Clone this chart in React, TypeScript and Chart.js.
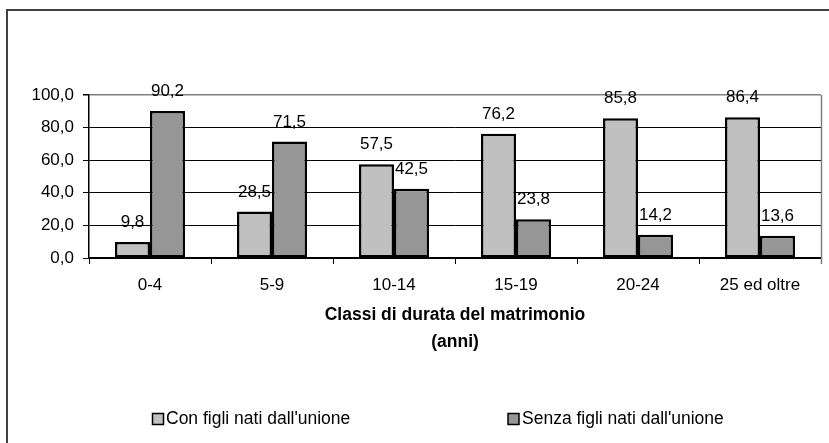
import React, { useEffect, useRef } from "react";
import { Chart, registerables } from "chart.js";

Chart.register(...registerables);

const categories = ["0-4", "5-9", "10-14", "15-19", "20-24", "25 ed oltre"];
const conFigli = [9.8, 28.5, 57.5, 76.2, 85.8, 86.4];
const senzaFigli = [90.2, 71.5, 42.5, 23.8, 14.2, 13.6];
const seriesNames = ["Con figli nati dall'unione", "Senza figli nati dall'unione"];
const axisTitle = ["Classi di durata del matrimonio", "(anni)"];
const yTicks = { min: 0, max: 100, step: 20 };

const FONT = '"Liberation Sans", Arial, sans-serif';
const LIGHT = "#C0C0C0";
const DARK = "#969696";

const fmt = (v: number) => v.toFixed(1).replace(".", ",");

const extras = {
  id: "extras",
  afterDraw(chart: any) {
    const { ctx, chartArea } = chart;
    ctx.save();
    // plot area right border (gray)
    ctx.strokeStyle = "#808080";
    ctx.lineWidth = 1.5;
    ctx.beginPath();
    ctx.moveTo(Math.round(chartArea.right) + 0.5, chartArea.top);
    ctx.lineTo(Math.round(chartArea.right) + 0.5, chartArea.bottom + 6);
    ctx.stroke();

    // data labels
    ctx.fillStyle = "#000";
    ctx.font = `17px ${FONT}`;
    ctx.textAlign = "center";
    ctx.textBaseline = "middle";
    chart.data.datasets.forEach((ds: any, di: number) => {
      const meta = chart.getDatasetMeta(di);
      meta.data.forEach((el: any, i: number) => {
        ctx.fillText(fmt(ds.data[i]), el.x, el.y - 19.5);
      });
    });

    // axis title
    const cx = (chartArea.left + chartArea.right) / 2;
    ctx.font = `bold 17.5px ${FONT}`;
    ctx.fillText(axisTitle[0], cx, 315);
    ctx.fillText(axisTitle[1], cx, 342);

    // legend
    const items = [
      { x: 152.5, tx: 166, color: LIGHT, label: seriesNames[0] },
      { x: 508, tx: 522, color: DARK, label: seriesNames[1] },
    ];
    ctx.font = `17.5px ${FONT}`;
    ctx.textAlign = "left";
    items.forEach((it) => {
      ctx.fillStyle = it.color;
      ctx.fillRect(it.x, 413.5, 11, 11);
      ctx.strokeStyle = "#000";
      ctx.lineWidth = 1.5;
      ctx.strokeRect(it.x, 413.5, 11, 11);
      ctx.fillStyle = "#000";
      ctx.fillText(it.label, it.tx, 419.5);
    });

    // outer border
    ctx.strokeStyle = "#404040";
    ctx.lineWidth = 2;
    ctx.strokeRect(7, 10, 900, 500);
    ctx.restore();
  },
};

export default function App() {
  const ref = useRef<HTMLCanvasElement>(null);
  useEffect(() => {
    document.body.style.margin = "0";
    const chart = new Chart(ref.current!, {
      type: "bar",
      data: {
        labels: categories,
        datasets: [
          {
            label: seriesNames[0],
            data: conFigli,
            backgroundColor: LIGHT,
            borderColor: "#000",
            borderWidth: 2.5,
            borderSkipped: false,
          },
          {
            label: seriesNames[1],
            data: senzaFigli,
            backgroundColor: DARK,
            borderColor: "#000",
            borderWidth: 2.5,
            borderSkipped: false,
          },
        ],
      },
      options: {
        responsive: false,
        animation: false,
        layout: { padding: { top: 95, right: 8, bottom: 0, left: 0 } },
        datasets: { bar: { barPercentage: 1, categoryPercentage: 0.574 } },
        plugins: { legend: { display: false }, tooltip: { enabled: false }, title: { display: false } },
        scales: {
          x: {
            afterFit: (s: any) => {
              s.height = 185;
            },
            grid: { drawOnChartArea: false, drawTicks: true, tickLength: 6, tickColor: "#000", offset: true },
            border: { color: "#000", width: 1.5 },
            ticks: { color: "#000", font: { family: FONT, size: 17 }, padding: 11, maxRotation: 0, autoSkip: false },
          },
          y: {
            min: yTicks.min,
            max: yTicks.max,
            afterFit: (s: any) => {
              s.width = 89;
            },
            grid: {
              color: (c: any) => (c.tick && c.tick.value === yTicks.max ? "#808080" : "#000"),
              lineWidth: (c: any) => (c.tick && c.tick.value === yTicks.max ? 1.5 : 1),
              tickLength: 6,
              tickColor: "#000",
            },
            border: { color: "#000", width: 1.5 },
            ticks: {
              stepSize: yTicks.step,
              color: "#000",
              font: { family: FONT, size: 17 },
              padding: 9,
              callback: (v: any) => fmt(Number(v)),
            },
          },
        },
      },
      plugins: [extras],
    });
    return () => chart.destroy();
  }, []);
  return (
    <div style={{ position: "fixed", left: 0, top: 0, width: 829, height: 443, background: "#fff" }}>
      <canvas ref={ref} width={829} height={443} />
    </div>
  );
}
